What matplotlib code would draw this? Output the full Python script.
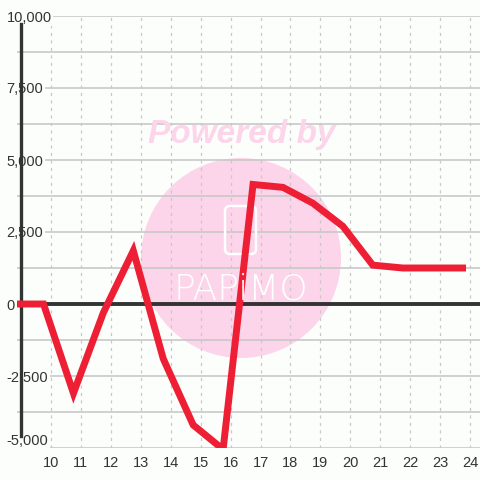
import matplotlib
matplotlib.use("Agg")
import matplotlib.pyplot as plt
from matplotlib.patches import Circle, FancyBboxPatch

# data
days = [8.75, 9.75, 10.75, 11.75, 12.75, 13.75, 14.75, 15.75,
        16.75, 17.75, 18.75, 19.75, 20.75, 21.75, 22.75, 23.75]
values = [0, 0, -3100, -300, 1850, -1900, -4200, -5050,
          4150, 4050, 3500, 2700, 1350, 1250, 1250, 1250]
x_ticks = list(range(10, 25))
y_ticks = [-5000, -2500, 0, 2500, 5000, 7500, 10000]
y_labels = ['-5,000', '-2,500', '0', '2,500', '5,000', '7,500', '10,000']
y_minor = [-3750, -1250, 1250, 3750, 6250, 8750]

bg = '#fcfefc'
plt.rcParams['font.family'] = ['Liberation Sans', 'DejaVu Sans']

fig = plt.figure(figsize=(4.8, 4.8), dpi=100, facecolor=bg)
ax = fig.add_axes([17/480, 32/480, 463/480, 432/480], facecolor=bg)

# watermark
wm = Circle((2.41, 2.22), 1.0, transform=fig.dpi_scale_trans,
            facecolor='#fcd5ea', edgecolor='none', zorder=0.5, clip_on=False)
ax.add_patch(wm)
icon = FancyBboxPatch((2.25, 2.26), 0.31, 0.48, boxstyle='round,pad=0,rounding_size=0.05',
                      transform=fig.dpi_scale_trans, facecolor='none',
                      edgecolor='white', lw=1.8, zorder=0.6, clip_on=False)
ax.add_patch(icon)
fig.text(2.41/4.8, (480-290)/480, 'PAPiMO', color='white', fontsize=26,
         family='DejaVu Sans', fontweight='light', ha='center', va='center', zorder=0.6)
fig.text(242/480, (480-134)/480, 'Powered by', color='#fcd5ea', fontsize=24,
         fontweight='heavy', fontstyle='italic', ha='center', va='center')

ax.plot(days, values, color='#ee1f35', lw=5, solid_joinstyle='miter', zorder=4)
ax.axhline(0, color='#333333', lw=2.8, zorder=3)
ax.axvline(9, ymin=(-4600 + 5000) / 15000, ymax=(9720 + 5000) / 15000,
           color='#333333', lw=2.4, zorder=3)

ax.set_xlim(8.864, 24.333)
ax.set_ylim(-5000, 10000)
ax.set_xticks(x_ticks)
ax.set_yticks(y_ticks)
ax.set_yticks(y_minor, minor=True)
ax.set_yticklabels(y_labels)

ax.grid(axis='y', which='both', color='#c8c8c8', lw=1.2, zorder=1)
ax.grid(axis='x', which='major', color='#c8c8c8', lw=0.9, ls=(0, (2.5, 3.5)), zorder=1)
ax.set_axisbelow(True)

for s in ax.spines.values():
    s.set_visible(False)

ax.tick_params(axis='both', which='both', length=0, labelsize=10.5, labelcolor='#333333')
ax.tick_params(axis='x', pad=6)
ax.tick_params(axis='y', pad=7.5)
for lab in ax.get_yticklabels():
    lab.set_horizontalalignment('left')
    lab.set_bbox(dict(facecolor=bg, edgecolor='none', pad=1))
    lab.set_zorder(5)
ax.get_yticklabels()[0].set_verticalalignment('bottom')

fig.savefig('out.png', dpi=100, facecolor=bg)
